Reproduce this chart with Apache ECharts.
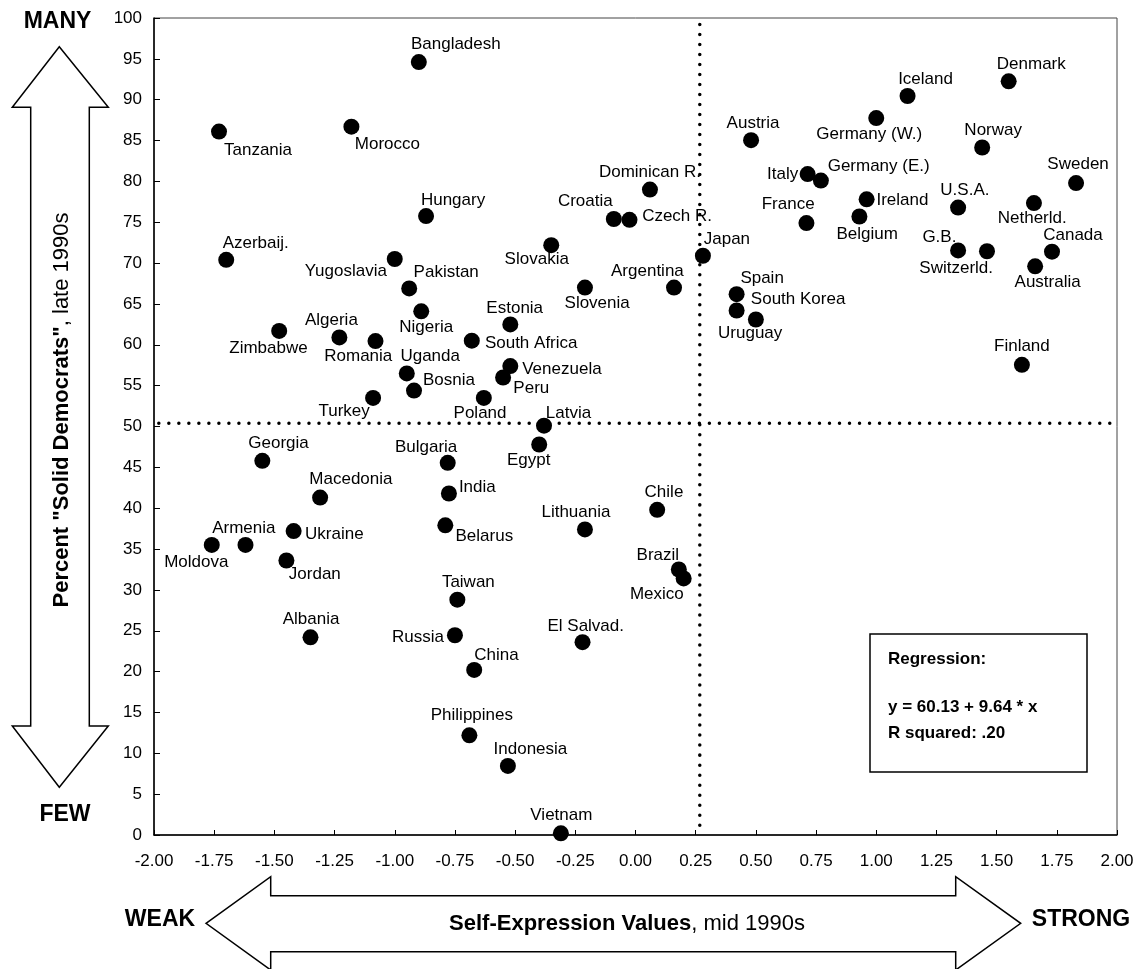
<!DOCTYPE html>
<html>
<head>
<meta charset="utf-8">
<title>Self-Expression Values and Solid Democrats</title>
<script src="https://cdn.jsdelivr.net/npm/echarts@6/dist/echarts.min.js"></script>
<style>
  html, body { margin: 0; padding: 0; background: #fff; }
  #chart { width: 1141px; height: 969px; }
</style>
</head>
<body>
<div id="chart"></div>
<script>
// Countries with their self-expression score (mid 1990s) and share of "solid democrats" (late 1990s)
const countries = [
  'Tanzania', 'Morocco', 'Bangladesh', 'Azerbaij.', 'Yugoslavia', 'Hungary', 'Pakistan', 'Nigeria',
  'Algeria', 'Zimbabwe', 'Romania', 'Uganda', 'Bosnia', 'Turkey', 'Estonia', 'South Africa',
  'Venezuela', 'Peru', 'Poland', 'Latvia', 'Egypt', 'Slovakia', 'Slovenia', 'Croatia',
  'Czech R.', 'Dominican R.', 'Argentina', 'Japan', 'Georgia', 'Macedonia', 'Armenia', 'Moldova',
  'Ukraine', 'Jordan', 'Albania', 'Bulgaria', 'India', 'Belarus', 'Lithuania', 'Chile',
  'Brazil', 'Mexico', 'Taiwan', 'Russia', 'El Salvad.', 'China', 'Philippines', 'Indonesia',
  'Vietnam', 'Austria', 'Spain', 'South Korea', 'Uruguay', 'Iceland', 'Denmark', 'Germany (W.)',
  'Norway', 'Italy', 'Germany (E.)', 'France', 'Ireland', 'Belgium', 'U.S.A.', 'Sweden',
  'Netherld.', 'G.B.', 'Switzerld.', 'Canada', 'Australia', 'Finland'
];

const selfExpression = [
  -1.73, -1.18, -0.90, -1.70, -1.00, -0.87, -0.94, -0.89,
  -1.23, -1.48, -1.08, -0.95, -0.92, -1.09, -0.52, -0.68,
  -0.52, -0.55, -0.63, -0.38, -0.40, -0.35, -0.21, -0.09,
  -0.025, 0.06, 0.16, 0.28, -1.55, -1.31, -1.62, -1.76,
  -1.42, -1.45, -1.35, -0.78, -0.775, -0.79, -0.21, 0.09,
  0.18, 0.20, -0.74, -0.75, -0.22, -0.67, -0.69, -0.53,
  -0.31, 0.48, 0.42, 0.42, 0.50, 1.13, 1.55, 1.00,
  1.44, 0.715, 0.77, 0.71, 0.96, 0.93, 1.34, 1.83,
  1.655, 1.34, 1.46, 1.73, 1.66, 1.605
];

const solidDemocrats = [
  86.1, 86.7, 94.6, 70.4, 70.5, 75.75, 66.9, 64.1,
  60.9, 61.7, 60.45, 56.5, 54.4, 53.5, 62.5, 60.5,
  57.4, 56.0, 53.5, 50.1, 47.8, 72.2, 67.0, 75.4,
  75.3, 79.0, 67.0, 70.9, 45.8, 41.3, 35.5, 35.5,
  37.2, 33.6, 24.2, 45.55, 41.8, 37.9, 37.4, 39.8,
  32.5, 31.4, 28.8, 24.45, 23.6, 20.2, 12.2, 8.45,
  0.2, 85.05, 66.2, 64.2, 63.1, 90.45, 92.25, 87.75,
  84.15, 80.9, 80.1, 74.9, 77.8, 75.7, 76.8, 79.8,
  77.35, 71.55, 71.45, 71.4, 69.6, 57.55
];

// Sample means shown as dotted dividing lines
const meanSelfExpression = 0.267;
const meanSolidDemocrats = 50.4;

// Regression of solid democrats on self-expression
const regIntercept = 60.13;
const regSlope = 9.64;
const regRSquared = '.20';

const xTicks = { min: -2, max: 2, step: 0.25 };
const yTicks = { min: 0, max: 100, step: 5 };

// Label placement (pixel shift of each label's centre from its dot)
const labelShift = {
  'Tanzania': [39, 19], 'Morocco': [36, 17.5], 'Bangladesh': [37, -17.7], 'Azerbaij.': [29.5, -16.7],
  'Yugoslavia': [-49, 12.7], 'Hungary': [27, -15.6], 'Pakistan': [37, -16], 'Nigeria': [5, 15.6],
  'Algeria': [-8, -17], 'Zimbabwe': [-10.7, 17.3], 'Romania': [-17.2, 14.7], 'Uganda': [23.4, -17],
  'Bosnia': [35, -10], 'Turkey': [-29, 13.4], 'Estonia': [4.4, -16], 'South Africa': [59.4, 2.6],
  'Venezuela': [51.6, 3.3], 'Peru': [28.2, 11], 'Poland': [-3.8, 15.7], 'Latvia': [24.5, -12.7],
  'Egypt': [-10.5, 16.3], 'Slovakia': [-14.5, 14.3], 'Slovenia': [12.2, 16], 'Croatia': [-28.5, -18],
  'Czech R.': [47.6, -3], 'Dominican R.': [0, -17.4], 'Argentina': [-26.6, -16.3], 'Japan': [24, -16.7],
  'Georgia': [16.2, -17.7], 'Macedonia': [30.8, -18], 'Armenia': [-1.7, -16.3], 'Moldova': [-15.5, 17],
  'Ukraine': [40.7, 3.7], 'Jordan': [28.4, 14.3], 'Albania': [0.6, -18], 'Bulgaria': [-21.6, -15.7],
  'India': [28.4, -6], 'Belarus': [39, 11.4], 'Lithuania': [-9, -17.6], 'Chile': [6.8, -17.3],
  'Brazil': [-21, -14.3], 'Mexico': [-26.8, 15.7], 'Taiwan': [11, -17.7], 'Russia': [-37, 2.4],
  'El Salvad.': [3.2, -15.6], 'China': [22.2, -14.3], 'Philippines': [2.5, -19.7], 'Indonesia': [22.5, -17],
  'Vietnam': [0.5, -18.3], 'Austria': [2, -17], 'Spain': [25.5, -15.7], 'South Korea': [61.5, -10.7],
  'Uruguay': [-5.7, 13.4], 'Iceland': [18, -16.3], 'Denmark': [22.6, -17.4], 'Germany (W.)': [-7, 16],
  'Norway': [11, -17], 'Italy': [-25, 0.7], 'Germany (E.)': [57.8, -14.7], 'France': [-18.3, -18.3],
  'Ireland': [35.8, 0.7], 'Belgium': [7.8, 18], 'U.S.A.': [6.8, -17], 'Sweden': [2, -18.3],
  'Netherld.': [-1.7, 15.7], 'G.B.': [-18.7, -13.4], 'Switzerld.': [-30.8, 17], 'Canada': [21, -16.7],
  'Australia': [12.5, 16], 'Finland': [0, -18.3]
};

const FONT = "'Liberation Sans', Arial, Helvetica, sans-serif";

const points = countries.map((name, i) => ({
  name: name,
  value: [selfExpression[i], solidDemocrats[i]],
  label: { offset: labelShift[name] || [0, -18] }
}));

// Double-headed block arrow outlines framing the axes
const verticalArrow = [
  [59.3, 46.7], [108.3, 107.3], [89.3, 107.3], [89.3, 726], [108.3, 726],
  [59.3, 787.3], [12.3, 726], [30.7, 726], [30.7, 107.3], [12.3, 107.3]
];
const horizontalArrow = [
  [206, 923.3], [270.7, 876.7], [270.7, 895.7], [955.7, 895.7], [955.7, 876.7],
  [1020.7, 923.3], [955.7, 970], [955.7, 951.7], [270.7, 951.7], [270.7, 970]
];

const chart = echarts.init(document.getElementById('chart'), null, { renderer: 'canvas' });

const dotted = { color: '#000', width: 3.5, type: [0.01, 10], cap: 'round' };

chart.setOption({
  animation: false,
  backgroundColor: '#fff',
  textStyle: { fontFamily: FONT },
  grid: {
    left: 154, right: 24, top: 18, bottom: 134,
    show: true, borderColor: '#444', borderWidth: 1, backgroundColor: 'transparent'
  },
  xAxis: {
    type: 'value',
    min: xTicks.min, max: xTicks.max, interval: xTicks.step,
    axisLine: { show: true, onZero: false, lineStyle: { color: '#000', width: 1.5 } },
    axisTick: { show: true, inside: true, length: 5, lineStyle: { color: '#000', width: 1 } },
    axisLabel: {
      color: '#000', fontSize: 17, fontFamily: FONT, margin: 18,
      formatter: v => (Math.abs(v) < 1e-9 ? 0 : v).toFixed(2)
    },
    splitLine: { show: false }
  },
  yAxis: {
    type: 'value',
    min: yTicks.min, max: yTicks.max, interval: yTicks.step,
    axisLine: { show: true, onZero: false, lineStyle: { color: '#000', width: 1.5 } },
    axisTick: { show: true, inside: true, length: 6, lineStyle: { color: '#000', width: 1 } },
    axisLabel: { color: '#000', fontSize: 17, fontFamily: FONT, margin: 12 },
    splitLine: { show: false }
  },
  series: [
    {
      type: 'line', silent: true, z: 1, showSymbol: false, symbol: 'none',
      data: [[meanSelfExpression, 1.2], [meanSelfExpression, 99.4]],
      lineStyle: dotted
    },
    {
      type: 'line', silent: true, z: 1, showSymbol: false, symbol: 'none',
      data: [[-1.98, meanSolidDemocrats], [1.97, meanSolidDemocrats]],
      lineStyle: dotted
    },
    {
      type: 'scatter', z: 3, silent: true,
      symbol: 'circle', symbolSize: 16,
      itemStyle: { color: '#000', opacity: 1 },
      label: {
        show: true, position: 'inside', formatter: '{b}',
        color: '#000', fontSize: 17, fontFamily: FONT,
        align: 'center', verticalAlign: 'middle',
        textBorderWidth: 0
      },
      emphasis: { disabled: true },
      data: points
    }
  ],
  graphic: [
    {
      type: 'polygon', z: 10, silent: true,
      shape: { points: verticalArrow },
      style: { fill: '#fff', stroke: '#000', lineWidth: 1.5 }
    },
    {
      type: 'polygon', z: 10, silent: true,
      shape: { points: horizontalArrow },
      style: { fill: '#fff', stroke: '#000', lineWidth: 1.5 }
    },
    {
      type: 'text', z: 11, silent: true, x: 62, y: 410, rotation: Math.PI / 2,
      style: {
        text: '{b|Percent "Solid Democrats"}{n|, late 1990s}',
        x: 0, y: 0, align: 'center', verticalAlign: 'middle',
        rich: {
          b: { fontSize: 22, fontWeight: 'bold', fontFamily: FONT, fill: '#000' },
          n: { fontSize: 22, fontFamily: FONT, fill: '#000' }
        }
      }
    },
    {
      type: 'text', z: 11, silent: true, x: 627, y: 924,
      style: {
        text: '{b|Self-Expression Values}{n|, mid 1990s}',
        x: 0, y: 0, align: 'center', verticalAlign: 'middle',
        rich: {
          b: { fontSize: 22, fontWeight: 'bold', fontFamily: FONT, fill: '#000' },
          n: { fontSize: 22, fontFamily: FONT, fill: '#000' }
        }
      }
    },
    {
      type: 'text', z: 11, silent: true,
      style: { text: 'MANY', x: 57.5, y: 22, align: 'center', verticalAlign: 'middle',
        font: 'bold 23px ' + FONT, fill: '#000' }
    },
    {
      type: 'text', z: 11, silent: true,
      style: { text: 'FEW', x: 65, y: 815, align: 'center', verticalAlign: 'middle',
        font: 'bold 23px ' + FONT, fill: '#000' }
    },
    {
      type: 'text', z: 11, silent: true,
      style: { text: 'WEAK', x: 160, y: 920, align: 'center', verticalAlign: 'middle',
        font: 'bold 23px ' + FONT, fill: '#000' }
    },
    {
      type: 'text', z: 11, silent: true,
      style: { text: 'STRONG', x: 1081, y: 920, align: 'center', verticalAlign: 'middle',
        font: 'bold 23px ' + FONT, fill: '#000' }
    },
    {
      type: 'group', z: 20, silent: true, x: 870, y: 634,
      children: [
        {
          type: 'rect', z: 20,
          shape: { x: 0, y: 0, width: 217, height: 138 },
          style: { fill: '#fff', stroke: '#000', lineWidth: 1.5 }
        },
        {
          type: 'text', z: 21,
          style: { text: 'Regression:', x: 18, y: 25, verticalAlign: 'middle',
            font: 'bold 17px ' + FONT, fill: '#000' }
        },
        {
          type: 'text', z: 21,
          style: { text: 'y = ' + regIntercept.toFixed(2) + ' + ' + regSlope.toFixed(2) + ' * x',
            x: 18, y: 73, verticalAlign: 'middle', font: 'bold 17px ' + FONT, fill: '#000' }
        },
        {
          type: 'text', z: 21,
          style: { text: 'R squared: ' + regRSquared, x: 18, y: 99, verticalAlign: 'middle',
            font: 'bold 17px ' + FONT, fill: '#000' }
        }
      ]
    }
  ]
});
</script>
</body>
</html>
